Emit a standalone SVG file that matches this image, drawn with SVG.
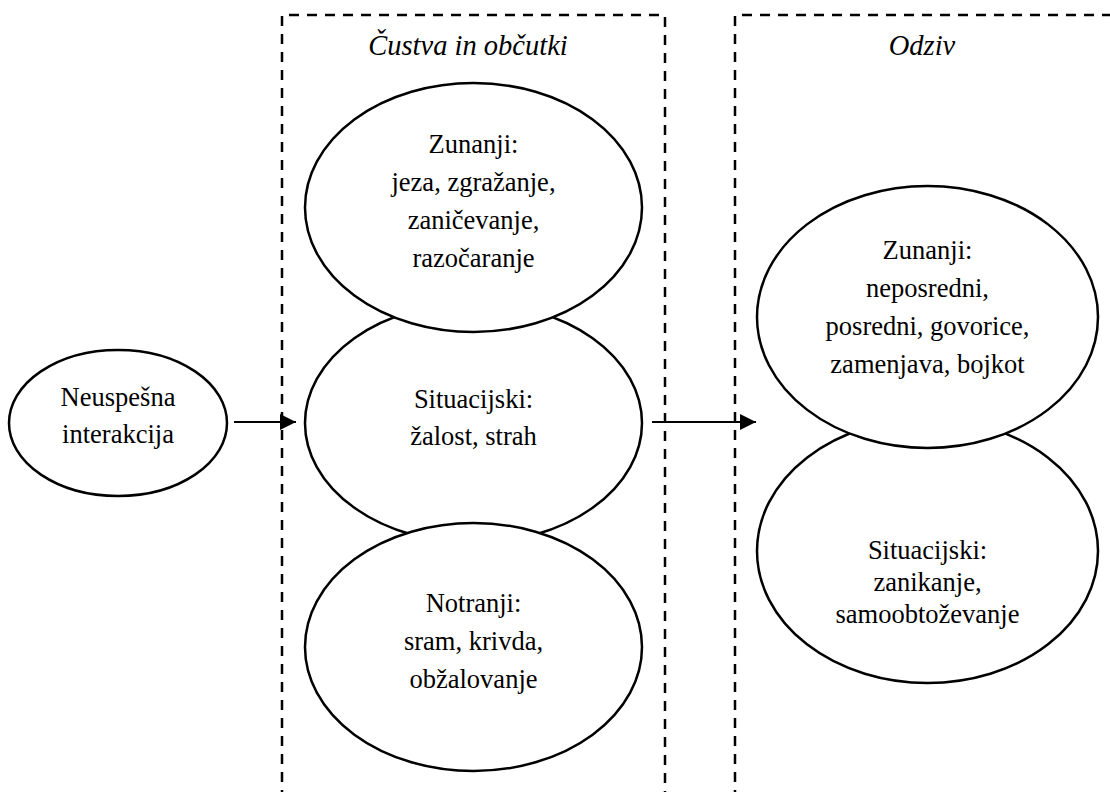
<svg xmlns="http://www.w3.org/2000/svg" width="1110" height="792" viewBox="0 0 1110 792">
  <defs>
    <style>
      .bg { fill: #ffffff; }
      .frame { fill: none; stroke: #000; stroke-width: 2.5; stroke-dasharray: 10 8; }
      .node { fill: #ffffff; stroke: #000; stroke-width: 2.5; }
      .edge { stroke: #000; stroke-width: 2; fill: none; }
    </style>
    <marker id="arrow" markerUnits="userSpaceOnUse" markerWidth="16" markerHeight="16" refX="16" refY="8" orient="auto">
      <path d="M0,0 L16,8 L0,16 Z" fill="#000"/>
    </marker>
  </defs>

  <rect class="bg" x="0" y="0" width="1110" height="792"/>

  <!-- dashed column frames (open at the bottom / right) -->
  <g id="frames" font-family="Liberation Serif" font-size="28.5" font-style="italic" text-anchor="middle" fill="#000">
    <path class="frame" d="M282,800 V15 H665 V800"/>
    <path class="frame" d="M735,800 V15 H1120"/>
    <text x="468" y="55">Čustva in občutki</text>
    <text x="922" y="55">Odziv</text>
  </g>

  <!-- connectors -->
  <g id="connectors">
    <line class="edge" x1="234" y1="422" x2="296" y2="422" marker-end="url(#arrow)"/>
    <line class="edge" x1="652" y1="422" x2="756" y2="422" marker-end="url(#arrow)"/>
  </g>

  <g id="nodes" font-family="Liberation Serif" font-size="26.5" text-anchor="middle" fill="#000">
    <!-- start node -->
    <g id="neuspesna">
      <ellipse class="node" cx="118" cy="423" rx="109" ry="73"/>
      <text x="118" y="406">Neuspešna</text>
      <text x="118" y="443">interakcija</text>
    </g>

    <!-- feelings column -->
    <g id="custva-situacijski">
      <ellipse class="node" cx="473.5" cy="423" rx="168.5" ry="120"/>
      <text x="473.5" y="408">Situacijski:</text>
      <text x="473.5" y="445">žalost, strah</text>
    </g>
    <g id="custva-zunanji">
      <ellipse class="node" cx="473.5" cy="207.5" rx="168.5" ry="124.5"/>
      <text x="473.5" y="153">Zunanji:</text>
      <text x="473.5" y="191">jeza, zgražanje,</text>
      <text x="473.5" y="229">zaničevanje,</text>
      <text x="473.5" y="267">razočaranje</text>
    </g>
    <g id="custva-notranji">
      <ellipse class="node" cx="473.5" cy="647" rx="168.5" ry="124"/>
      <text x="473.5" y="612">Notranji:</text>
      <text x="473.5" y="650">sram, krivda,</text>
      <text x="473.5" y="688">obžalovanje</text>
    </g>

    <!-- response column -->
    <g id="odziv-situacijski">
      <ellipse class="node" cx="927.5" cy="551" rx="170.5" ry="132"/>
      <text x="927.5" y="559">Situacijski:</text>
      <text x="927.5" y="591">zanikanje,</text>
      <text x="927.5" y="623">samoobtoževanje</text>
    </g>
    <g id="odziv-zunanji">
      <ellipse class="node" cx="927.5" cy="317" rx="170.5" ry="131"/>
      <text x="927.5" y="259">Zunanji:</text>
      <text x="927.5" y="297">neposredni,</text>
      <text x="927.5" y="335">posredni, govorice,</text>
      <text x="927.5" y="373">zamenjava, bojkot</text>
    </g>
  </g>
</svg>
